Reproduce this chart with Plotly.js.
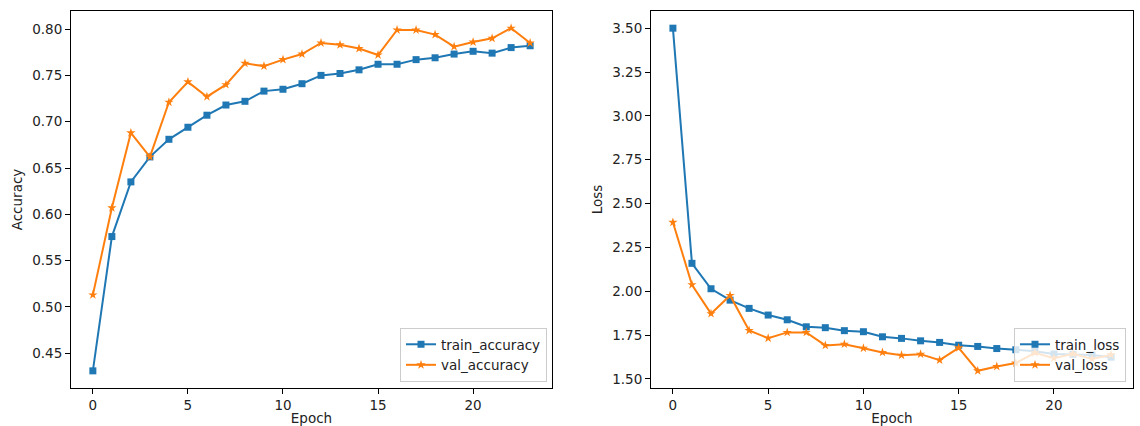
<!DOCTYPE html>
<html>
<head>
<meta charset="utf-8">
<script src="https://cdn.plot.ly/plotly-3.0.1.min.js"></script>
<style>html,body{margin:0;padding:0;background:#fff;}#chart{width:1140px;height:426px;}</style>
</head>
<body>
<div id="chart"></div>
<script>
const epochs = [0,1,2,3,4,5,6,7,8,9,10,11,12,13,14,15,16,17,18,19,20,21,22,23];
const trainAccuracy = [0.431,0.576,0.635,0.662,0.681,0.694,0.707,0.718,0.722,0.733,0.735,0.741,0.750,0.752,0.756,0.762,0.762,0.767,0.769,0.773,0.776,0.774,0.780,0.782];
const valAccuracy = [0.513,0.607,0.688,0.662,0.721,0.743,0.727,0.740,0.763,0.760,0.767,0.773,0.785,0.783,0.779,0.772,0.799,0.799,0.794,0.781,0.786,0.790,0.801,0.785];
const trainLoss = [3.500,2.159,2.014,1.949,1.902,1.864,1.837,1.797,1.792,1.775,1.769,1.740,1.731,1.717,1.708,1.692,1.685,1.673,1.666,1.658,1.642,1.640,1.636,1.624];
const valLoss = [2.393,2.037,1.872,1.976,1.776,1.732,1.765,1.765,1.691,1.698,1.675,1.651,1.635,1.641,1.607,1.677,1.546,1.571,1.590,1.649,1.618,1.643,1.614,1.637];
const xTicks = [0,5,10,15,20];
const accTicks = [0.45,0.50,0.55,0.60,0.65,0.70,0.75,0.80];
const lossTicks = [1.50,1.75,2.00,2.25,2.50,2.75,3.00,3.25,3.50];

const BLUE = '#1f77b4', ORANGE = '#ff7f0e', TXT = '#222';
const W = 1140, H = 426;
function line(x, y, name, color, sym, size, xa, ya, leg) {
  return {x: x, y: y, name: name, type: 'scatter', mode: 'lines+markers',
    xaxis: xa, yaxis: ya, legend: leg,
    line: {color: color, width: 2},
    marker: {symbol: sym, size: size, color: color, line: {width: 0}}};
}
const data = [
  line(epochs, trainAccuracy, 'train_accuracy', BLUE, 'square', 7, 'x', 'y', 'legend'),
  line(epochs, valAccuracy, 'val_accuracy', ORANGE, 'star', 7, 'x', 'y', 'legend'),
  line(epochs, trainLoss, 'train_loss', BLUE, 'square', 7, 'x2', 'y2', 'legend2'),
  line(epochs, valLoss, 'val_loss', ORANGE, 'star', 7, 'x2', 'y2', 'legend2')
];
const font = {family: 'DejaVu Sans', size: 13.5, color: TXT};
function axis(extra) {
  return Object.assign({
    showline: true, mirror: true, linecolor: '#000', linewidth: 1,
    ticks: 'outside', ticklen: 5, tickwidth: 1, tickcolor: '#000',
    showgrid: false, zeroline: false, automargin: false,
    tickfont: font, fixedrange: true
  }, extra);
}
const yDom = [(H - 388) / H, (H - 11) / H];
const layout = {
  width: W, height: H,
  margin: {l: 0, r: 0, t: 0, b: 0},
  paper_bgcolor: '#fff', plot_bgcolor: '#fff',
  font: font,
  xaxis: axis({domain: [71 / W, 552 / W], anchor: 'y', range: [-1.15, 24.15], tickvals: xTicks,
    title: {text: 'Epoch', font: font, standoff: 5}}),
  yaxis: axis({domain: yDom, anchor: 'x', range: [0.4125, 0.8195], tickvals: accTicks, tickformat: '.2f',
    title: {text: 'Accuracy', font: font, standoff: 6}}),
  xaxis2: axis({domain: [651 / W, 1133 / W], anchor: 'y2', range: [-1.15, 24.15], tickvals: xTicks,
    title: {text: 'Epoch', font: font, standoff: 5}}),
  yaxis2: axis({domain: yDom, anchor: 'x2', range: [1.448, 3.598], tickvals: lossTicks, tickformat: '.2f',
    title: {text: 'Loss', font: font, standoff: 6}}),
  legend: {x: 547 / W, xanchor: 'right', y: (H - 382) / H, yanchor: 'bottom',
    bgcolor: 'rgba(255,255,255,0.8)', bordercolor: '#cccccc', borderwidth: 1,
    font: font, tracegroupgap: 0, itemwidth: 30},
  legend2: {x: 1126 / W, xanchor: 'right', y: (H - 382) / H, yanchor: 'bottom',
    bgcolor: 'rgba(255,255,255,0.8)', bordercolor: '#cccccc', borderwidth: 1,
    font: font, tracegroupgap: 0, itemwidth: 30},
  showlegend: true
};
Plotly.newPlot('chart', data, layout, {displayModeBar: false, staticPlot: true});
</script>
</body>
</html>
